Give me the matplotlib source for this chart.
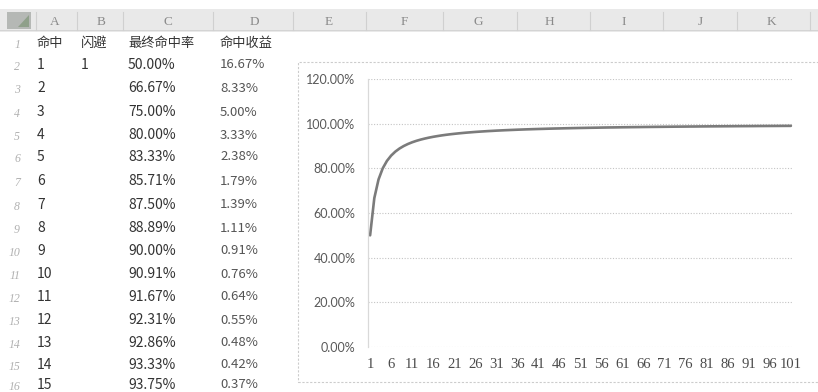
import matplotlib.pyplot as plt
from matplotlib.patches import Rectangle, Polygon
from matplotlib.ticker import FuncFormatter

W, H = 818, 392

# spreadsheet contents
col_letters = ["A", "B", "C", "D", "E", "F", "G", "H", "I", "J", "K"]
header_row = ["命中", "闪避", "最终命中率", "命中收益"]
hits = [1, 2, 3, 4, 5, 6, 7, 8, 9, 10, 11, 12, 13, 14, 15]
dodge = ["1"]
final_rate = ["50.00%", "66.67%", "75.00%", "80.00%", "83.33%", "85.71%", "87.50%",
              "88.89%", "90.00%", "90.91%", "91.67%", "92.31%", "92.86%", "93.33%",
              "93.75%"]
hit_gain = ["16.67%", "8.33%", "5.00%", "3.33%", "2.38%", "1.79%", "1.39%", "1.11%",
            "0.91%", "0.76%", "0.64%", "0.55%", "0.48%", "0.42%", "0.37%"]

# chart series: final hit rate (%) for hit count 1..101
chart_x = list(range(1, 102))
chart_rate = [
    50.00, 66.67, 75.00, 80.00, 83.33, 85.71, 87.50, 88.89, 90.00, 90.91,
    91.67, 92.31, 92.86, 93.33, 93.75, 94.12, 94.44, 94.74, 95.00, 95.24,
    95.45, 95.65, 95.83, 96.00, 96.15, 96.30, 96.43, 96.55, 96.67, 96.77,
    96.88, 96.97, 97.06, 97.14, 97.22, 97.30, 97.37, 97.44, 97.50, 97.56,
    97.62, 97.67, 97.73, 97.78, 97.83, 97.87, 97.92, 97.96, 98.00, 98.04,
    98.08, 98.11, 98.15, 98.18, 98.21, 98.25, 98.28, 98.31, 98.33, 98.36,
    98.39, 98.41, 98.44, 98.46, 98.48, 98.51, 98.53, 98.55, 98.57, 98.59,
    98.61, 98.63, 98.65, 98.67, 98.68, 98.70, 98.72, 98.73, 98.75, 98.77,
    98.78, 98.80, 98.81, 98.82, 98.84, 98.85, 98.86, 98.88, 98.89, 98.90,
    98.91, 98.92, 98.94, 98.95, 98.96, 98.97, 98.98, 98.99, 99.00, 99.01,
    99.02,
]
y_ticks = [0, 20, 40, 60, 80, 100, 120]


def fx(x):
    return x / W


def fy(y):
    return 1 - y / H


fig = plt.figure(figsize=(W / 100, H / 100), dpi=100)
fig.patch.set_facecolor("white")

cjk = ["Noto Sans CJK SC", "DejaVu Sans"]

# column header strip
fig.add_artist(Rectangle((0, fy(32)), 1, fy(9) - fy(32), transform=fig.transFigure,
                         facecolor="#e9e9e9", edgecolor="none"))
fig.add_artist(Rectangle((fx(0), fy(31)), fx(818), fy(30) - fy(31), transform=fig.transFigure,
                         facecolor="#d4d4d4", edgecolor="none"))
# corner select-all icon
fig.add_artist(Rectangle((fx(7), fy(29)), fx(24), fy(12) - fy(29), transform=fig.transFigure,
                         facecolor="#b5b8b5", edgecolor="none"))
fig.add_artist(Polygon([(fx(18), fy(27)), (fx(29), fy(27)), (fx(29), fy(15))],
                       transform=fig.transFigure, facecolor="#8fa08a", edgecolor="none"))

col_x = [55, 101, 168, 254, 329, 404, 478, 549, 624, 700, 771]
for letter, x in zip(col_letters, col_x):
    fig.text(fx(x), fy(22), letter, ha="center", va="center", fontsize=9.5,
             family="Liberation Serif", color="#8a8a8a")
for x in [36, 77, 123, 213, 293, 366, 443, 517, 590, 663, 737, 810]:
    fig.add_artist(plt.Line2D([fx(x), fx(x)], [fy(12), fy(30)], transform=fig.transFigure,
                              color="#d0d0d0", lw=0.8))

# row numbers
row_y = [43, 65, 88, 112, 135, 157, 181, 205, 228, 251, 274, 297, 320, 343, 365, 385]
for i, y in enumerate(row_y):
    fig.text(fx(20), fy(y + 2), str(i + 1), ha="right", va="center", fontsize=8.5,
             family="Liberation Serif", color="#b0b0b0", style="italic")

# header row
for label, x in zip(header_row, [37, 81, 128, 220]):
    fig.text(fx(x), fy(row_y[0]), label, ha="left", va="center", fontsize=9.5,
             family=cjk, color="#333333")

# table body
for i in range(len(hits)):
    y = row_y[i + 1]
    fig.text(fx(37), fy(y), str(hits[i]), ha="left", va="center", fontsize=10,
             family=cjk, color="#333333")
    fig.text(fx(128), fy(y), final_rate[i], ha="left", va="center", fontsize=10,
             family=cjk, color="#333333")
    fig.text(fx(220), fy(y), hit_gain[i], ha="left", va="center", fontsize=9.5,
             family=cjk, color="#555555")
    if i < len(dodge):
        fig.text(fx(81), fy(y), dodge[i], ha="left", va="center", fontsize=10,
                 family=cjk, color="#333333")

# chart frame, kept behind the axes
frame = Rectangle((fx(298), fy(382)), fx(530), fy(62) - fy(382),
                  transform=fig.transFigure, facecolor="white",
                  edgecolor="#cccccc", lw=0.8, linestyle=(0, (2, 1.5)), zorder=-1)
fig.add_artist(frame)

ax = fig.add_axes([fx(368), fy(347), fx(793 - 368), fy(79) - fy(347)])
ax.set_zorder(3)
ax.patch.set_alpha(0)
ax.plot(chart_x, chart_rate, color="#7b7b7b", lw=1.9, solid_capstyle="round")
ax.set_xlim(0.5, 101.5)
ax.set_ylim(0, 120)
ax.set_yticks(y_ticks)
ax.yaxis.set_major_formatter(FuncFormatter(lambda v, _: f"{v:.2f}%"))
ax.set_xticks(chart_x[::5])
ax.grid(axis="y", color="#c4c4c4", lw=0.8, linestyle=(0, (1, 1.5)))
ax.set_axisbelow(True)
for side in ["top", "right", "bottom"]:
    ax.spines[side].set_visible(False)
ax.spines["left"].set_color("#d9d9d9")
ax.spines["left"].set_linewidth(0.9)
ax.tick_params(axis="both", length=0)
ax.tick_params(axis="y", pad=9, labelsize=9, labelcolor="#595959")
ax.tick_params(axis="x", pad=8, labelsize=10.5, labelcolor="#4a4a4a")
for t in ax.get_yticklabels():
    t.set_family("Lato")
for t in ax.get_xticklabels():
    t.set_family("Liberation Serif")

fig.savefig("out.png", dpi=100, facecolor="white")
